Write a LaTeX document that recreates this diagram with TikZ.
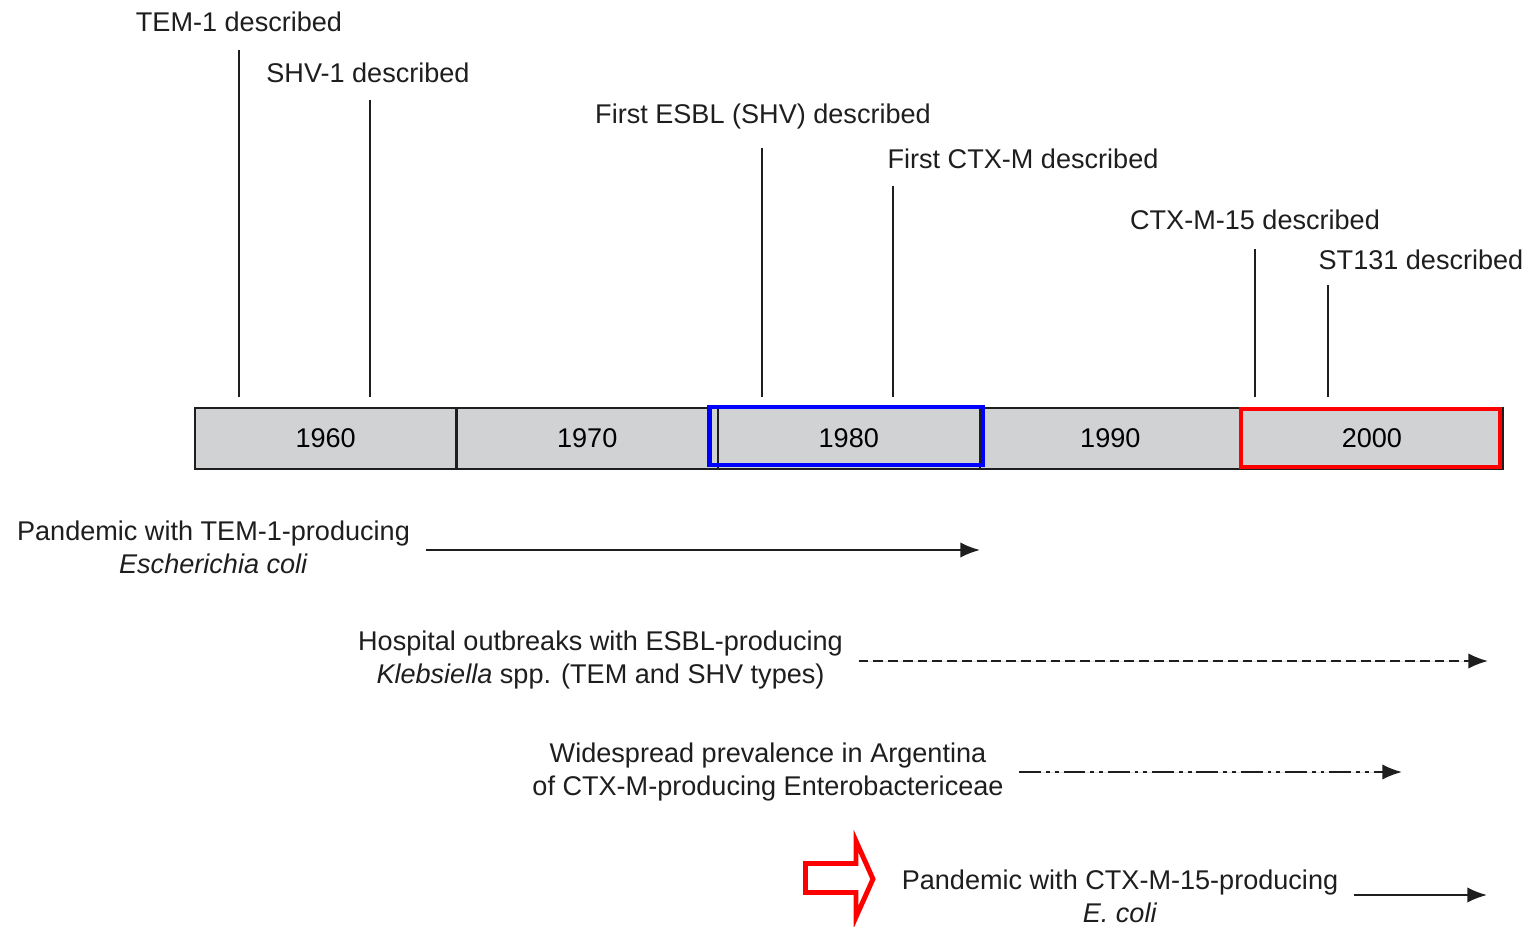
\documentclass[tikz,border=0pt]{standalone}
\usepackage{fontspec}
\setmainfont{Liberation Sans}
\usepackage{tikz}
\usetikzlibrary{calc}
\usetikzlibrary{arrows.meta}
\usetikzlibrary{positioning}
\definecolor{bargray}{RGB}{209,210,212}
\definecolor{ink}{RGB}{30,30,30}
\tikzset{>={Latex[length=5.6pt,width=4.4pt]}}
\tikzstyle{decade} = [rectangle, draw=ink, fill=bargray, line width=0.6pt, minimum width=2.614cm, minimum height=0.61cm, inner sep=0pt, outer sep=0pt]
\tikzstyle{event} = [draw=none, inner sep=0pt, text=ink]
\tikzstyle{tick} = [-, draw=ink, line width=0.6pt]
\tikzstyle{spantext} = [draw=none, align=center, inner ysep=0pt, inner xsep=0.15cm, text=ink]
\tikzstyle{span} = [->, draw=ink, fill=ink, line width=0.6pt]
\tikzstyle{dashdotdot} = [dash pattern=on 6.2pt off 1.4pt on 1.1pt off 1.4pt on 1.1pt off 1.4pt]

\begin{document}
\begin{tikzpicture}[x=0.01cm, y=-0.01cm, font=\fontsize{7.7}{9.4}\selectfont]
\useasboundingbox (0,0) rectangle (1532,926);

\node [decade] (d1960) at (325.7, 438.5) {1960};
\node [decade, right=0pt of d1960] (d1970) {1970};
\node [decade, right=0pt of d1970] (d1980) {1980};
\node [decade, right=0pt of d1980] (d1990) {1990};
\node [decade, right=0pt of d1990] (d2000) {2000};
\draw [blue, line width=1.3pt] (709.5, 407) rectangle (983, 465);
\draw [red, line width=1.3pt] (1241, 409) rectangle (1500, 467);

\node [event] (tem) at (239, 22) {TEM-1 described};
\node [event] (shv) at (368, 73) {SHV-1 described};
\node [event] (esbl) at (763, 116) {First ESBL (SHV) described};
\node [event] (ctxm) at (1023, 159) {First CTX-M described};
\node [event] (ctxm15) at (1255, 220) {CTX-M-15 described};
\node [event] (st131) at (1421, 260) {ST131 described};
\coordinate (tem top) at (239, 50);
\coordinate (shv top) at (370, 100);
\coordinate (esbl top) at (762, 148);
\coordinate (ctxm top) at (893, 186);
\coordinate (ctxm15 top) at (1255, 249);
\coordinate (st131 top) at (1328, 285);
\draw [tick] (tem top) -- ++(0, 347);
\draw [tick] (shv top) -- ++(0, 297);
\draw [tick] (esbl top) -- ++(0, 249);
\draw [tick] (ctxm top) -- ++(0, 211);
\draw [tick] (ctxm15 top) -- ++(0, 148);
\draw [tick] (st131 top) -- ++(0, 112);

\node [spantext] (tempan) at (213.5, 547) {Pandemic with TEM-1-producing\\\textit{Escherichia coli}};
\node [spantext] (klebs) at (600.5, 660) {Hospital outbreaks with ESBL-producing\\\textit{Klebsiella} spp. (TEM and SHV types)};
\node [spantext] (argen) at (768, 772) {Widespread prevalence in Argentina\\of CTX-M-producing Enterobactericeae};
\node [spantext] (ctxpan) at (1120, 896) {Pandemic with CTX-M-15-producing\\\textit{E. coli}};
\coordinate (tempan end) at (980, 550);
\coordinate (klebs end) at (1488, 661);
\coordinate (argen end) at (1402, 772);
\coordinate (ctxpan end) at (1487, 895);
\draw [span] (tempan.east |- tempan end) -- (tempan end);
\draw [span, dash pattern=on 2.8pt off 1.4pt] (klebs.east |- klebs end) -- (klebs end);
\draw [span, dashdotdot] (argen.east |- argen end) -- (argen end);
\draw [span] (ctxpan.east |- ctxpan end) -- (ctxpan end);

\draw [red, line width=1.4pt, miter limit=20] (805.5, 863.5) -- (856, 863.5) -- (856, 841) -- (873, 879) -- (856, 917) -- (856, 892.5) -- (805.5, 892.5) -- cycle;
\end{tikzpicture}
\end{document}
